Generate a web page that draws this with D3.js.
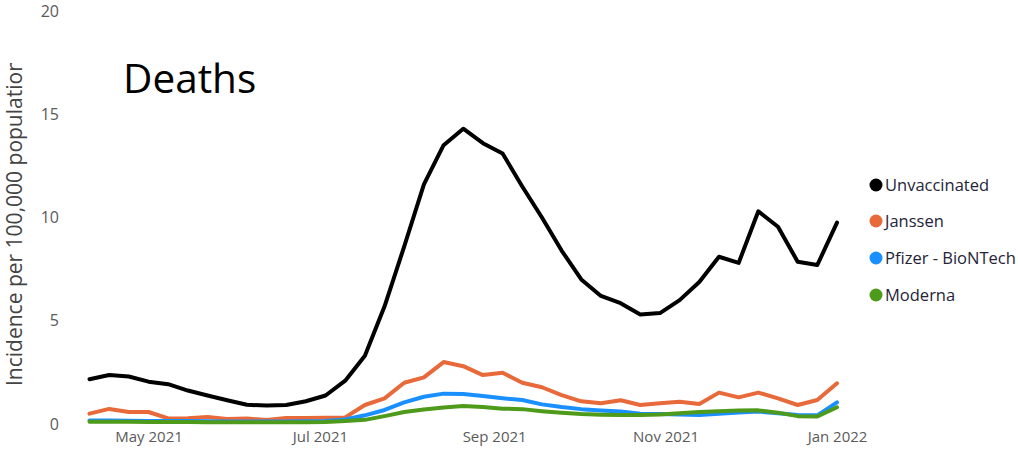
<!DOCTYPE html>
<html>
<head>
<meta charset="utf-8">
<script src="https://cdn.jsdelivr.net/npm/d3@7"></script>
<style>
  html, body { margin: 0; padding: 0; background: #ffffff; }
  svg { display: block; }
</style>
</head>
<body>
<svg id="chart" width="1018" height="451"></svg>
<script>
const dates = ["2021-04-10","2021-04-17","2021-04-24","2021-05-01","2021-05-08","2021-05-15","2021-05-22","2021-05-29",
  "2021-06-05","2021-06-12","2021-06-19","2021-06-26","2021-07-03","2021-07-10","2021-07-17","2021-07-24","2021-07-31",
  "2021-08-07","2021-08-14","2021-08-21","2021-08-28","2021-09-04","2021-09-11","2021-09-18","2021-09-25","2021-10-02",
  "2021-10-09","2021-10-16","2021-10-23","2021-10-30","2021-11-06","2021-11-13","2021-11-20","2021-11-27","2021-12-04",
  "2021-12-11","2021-12-18","2021-12-25","2022-01-01"];

const unvaccinated = [2.17,2.37,2.3,2.05,1.93,1.62,1.38,1.15,0.93,0.89,0.92,1.1,1.38,2.1,3.3,5.7,8.6,11.6,13.5,14.3,13.6,13.1,
  11.5,10.0,8.4,7.0,6.2,5.85,5.3,5.37,6.0,6.88,8.1,7.8,10.3,9.55,7.86,7.7,9.75];
const janssen = [0.5,0.73,0.58,0.58,0.27,0.28,0.34,0.24,0.27,0.19,0.29,0.29,0.3,0.32,0.92,1.24,2.0,2.26,3.0,2.8,2.37,2.48,
  2.0,1.78,1.4,1.1,1.0,1.15,0.92,1.0,1.08,0.97,1.52,1.29,1.52,1.24,0.92,1.16,1.97];
const pfizer = [0.17,0.17,0.16,0.15,0.15,0.14,0.13,0.12,0.12,0.12,0.12,0.13,0.15,0.22,0.42,0.68,1.05,1.32,1.47,1.45,1.36,1.25,
  1.16,0.95,0.82,0.72,0.65,0.6,0.5,0.48,0.46,0.44,0.5,0.56,0.6,0.52,0.44,0.42,1.05];
const moderna = [0.11,0.11,0.11,0.1,0.1,0.1,0.09,0.09,0.08,0.08,0.08,0.09,0.1,0.14,0.2,0.38,0.58,0.7,0.8,0.87,0.82,0.74,
  0.72,0.62,0.54,0.48,0.45,0.44,0.44,0.46,0.52,0.58,0.62,0.65,0.66,0.55,0.38,0.36,0.81];

const seriesNames = ["Unvaccinated","Janssen","Pfizer - BioNTech","Moderna"];
const seriesColors = ["#000000","#E8693A","#1A8FFF","#4E9A1A"];
const yTicks = [0,5,10,15,20];
const xTickDates = ["2021-05-01","2021-07-01","2021-09-01","2021-11-01","2022-01-01"];
const titleText = "Deaths";
const yTitle = "Incidence per 100,000 population";

const parse = d3.timeParse("%Y-%m-%d");
const allSeries = [unvaccinated, janssen, pfizer, moderna];

const svg = d3.select("#chart");

const x = d3.scaleTime()
  .domain([parse(dates[0]), parse(dates[dates.length - 1])])
  .range([89.5, 837]);
const y = d3.scaleLinear().domain([0, 20]).range([424, 11]);

// Y axis
const yAxis = d3.axisLeft(y).tickValues(yTicks).tickSize(0).tickPadding(0);
const yg = svg.append("g").attr("transform", "translate(59,0)").call(yAxis);
yg.select(".domain").remove();
yg.selectAll("text")
  .attr("fill", "#5a5a5a")
  .style("font-family", "'Open Sans', sans-serif")
  .style("font-size", "16px");

// X axis
const xAxis = d3.axisBottom(x)
  .tickValues(xTickDates.map(parse))
  .tickFormat(d3.timeFormat("%b %Y"))
  .tickSize(0).tickPadding(0);
const xg = svg.append("g").attr("transform", "translate(0,431)").call(xAxis);
xg.select(".domain").remove();
xg.selectAll("text")
  .attr("fill", "#5a5a5a")
  .style("font-family", "'Open Sans', sans-serif")
  .style("font-size", "15px");

// Y title (clipped at top)
svg.append("clipPath").attr("id", "yclip")
  .append("rect").attr("x", 0).attr("y", 63).attr("width", 40).attr("height", 360);
svg.append("g")
  .attr("clip-path", "url(#yclip)")
  .append("text")
  .attr("transform", "translate(22,386) rotate(-90)")
  .attr("text-anchor", "start")
  .attr("fill", "#444444")
  .style("font-family", "'Open Sans', sans-serif")
  .style("font-size", "21px")
  .text(yTitle);

// Lines
const line = d3.line()
  .x((d, i) => x(parse(dates[i])))
  .y(d => y(d));

allSeries.forEach((s, i) => {
  svg.append("path")
    .datum(s)
    .attr("fill", "none")
    .attr("stroke", seriesColors[i])
    .attr("stroke-width", 4)
    .attr("stroke-linejoin", "round")
    .attr("stroke-linecap", "round")
    .attr("d", line);
});

// Title
svg.append("text")
  .attr("x", 123)
  .attr("y", 93)
  .attr("fill", "#000")
  .style("font-family", "'Open Sans', sans-serif")
  .style("font-size", "40.5px")
  .text(titleText);

// Legend
const legendY = [185, 221, 258, 295];
const lg = svg.append("g");
seriesNames.forEach((name, i) => {
  lg.append("circle")
    .attr("cx", 876).attr("cy", legendY[i]).attr("r", 6.5)
    .attr("fill", seriesColors[i]);
  lg.append("text")
    .attr("x", 885).attr("y", legendY[i] + 6)
    .attr("fill", "#252438")
    .style("font-family", "'Open Sans', sans-serif")
    .style("font-size", "16.5px")
    .text(name);
});
</script>
</body>
</html>
